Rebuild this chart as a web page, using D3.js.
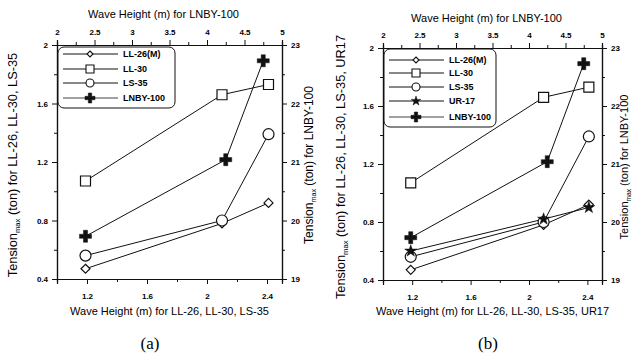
<!DOCTYPE html>
<html>
<head>
<meta charset="utf-8">
<script src="https://cdn.jsdelivr.net/npm/d3@7"></script>
<style>
  body { margin: 0; background: #fff; }
  svg { display: block; }
  text { font-family: Arial, "Liberation Sans", sans-serif; fill: #000; }
  .tick-label { font-size: 8px; font-weight: bold; }
  .title { font-size: 11px; }
  .legend text { font-size: 9px; font-weight: bold; }
  .caption { font-family: "Liberation Serif", "DejaVu Serif", serif; font-size: 17px; }
</style>
</head>
<body>
<svg id="chart" width="632" height="356"></svg>
<script>
// wave heights (m) for LL-26, LL-30, LS-35, UR17
const waveHeights = [1.19, 2.1, 2.41];
// wave heights (m) for LNBY-100
const lnbyWaveHeights = [2.38, 4.25, 4.75];

// max tension (ton)
const ll26 = [0.47, 0.78, 0.92];
const ll30 = [1.07, 1.66, 1.73];
const ls35 = [0.56, 0.80, 1.39];
const ur17 = [0.60, 0.82, 0.90];
const lnby100 = [19.73, 21.04, 22.73];

// tick labels
const bottomTicks = [1.2, 1.6, 2, 2.4];
const bottomMinor = [1.0, 1.4, 1.8, 2.2];
const topTicks = [2, 2.5, 3, 3.5, 4, 4.5, 5];
const topMinor = [2.25, 2.75, 3.25, 3.75, 4.25, 4.75];
const leftTicks = [0.4, 0.8, 1.2, 1.6, 2];
const leftMinor = [0.6, 1.0, 1.4, 1.8];
const rightTicks = [19, 20, 21, 22, 23];
const rightMinor = [19.5, 20.5, 21.5, 22.5];

const svg = d3.select('#chart');

function markerPath(type, s) {
  const h = s / 2;
  if (type === 'diamond') return `M0,${-h}L${h},0L0,${h}L${-h},0Z`;
  if (type === 'square') return `M${-h},${-h}H${h}V${h}H${-h}Z`;
  if (type === 'circle') return d3.symbol(d3.symbolCircle, Math.PI * h * h)();
  if (type === 'star') return d3.symbol(d3.symbolStar, s * s * 0.45)();
  if (type === 'plus') {
    const a = s * 0.17;
    return `M${-a},${-h}H${a}V${-a}H${h}V${a}H${a}V${h}H${-a}V${a}H${-h}V${-a}H${-a}Z`;
  }
}

function drawPanel(p) {
  const g = svg.append('g');
  const x = d3.scaleLinear().domain([1.0, 2.5]).range([p.x0, p.x1]);
  const xTop = d3.scaleLinear().domain([2, 5]).range([p.x0, p.x1]);
  const y = d3.scaleLinear().domain([0.4, 2]).range([p.y1, p.y0]);
  const yR = d3.scaleLinear().domain([19, 23]).range([p.y1, p.y0]);

  const axisStyle = sel => {
    sel.select('.domain').attr('stroke', '#111').attr('stroke-width', 1.2);
    sel.selectAll('.tick line').attr('stroke', '#111').attr('stroke-width', 1);
    sel.selectAll('.tick text').attr('class', 'tick-label').attr('fill', '#000');
  };
  const minor = (axis, vals) => axis.tickValues(vals).tickSize(3).tickFormat('');

  // minor ticks
  g.append('g').attr('transform', `translate(0,${p.y1})`).call(minor(d3.axisBottom(x), bottomMinor)).call(axisStyle);
  g.append('g').attr('transform', `translate(0,${p.y0})`).call(minor(d3.axisTop(xTop), topMinor)).call(axisStyle);
  g.append('g').attr('transform', `translate(${p.x0},0)`).call(minor(d3.axisLeft(y), leftMinor)).call(axisStyle);
  g.append('g').attr('transform', `translate(${p.x1},0)`).call(minor(d3.axisRight(yR), rightMinor)).call(axisStyle);

  // major ticks
  g.append('g').attr('transform', `translate(0,${p.y1})`)
    .call(d3.axisBottom(x).tickValues(bottomTicks).tickSize(5).tickPadding(9).tickFormat(d3.format('')))
    .call(axisStyle);
  g.append('g').attr('transform', `translate(0,${p.y0})`)
    .call(d3.axisTop(xTop).tickValues(topTicks).tickSize(5).tickPadding(p.topPad).tickFormat(d3.format('')))
    .call(axisStyle);
  g.append('g').attr('transform', `translate(${p.x0},0)`)
    .call(d3.axisLeft(y).tickValues(leftTicks).tickSize(5).tickPadding(4).tickFormat(d3.format('')))
    .call(axisStyle);
  g.append('g').attr('transform', `translate(${p.x1},0)`)
    .call(d3.axisRight(yR).tickValues(rightTicks).tickSize(5).tickPadding(4).tickFormat(d3.format('')))
    .call(axisStyle);

  // axis titles
  g.append('text').attr('class', 'title').attr('x', (p.x0 + p.x1) / 2 + p.topTitleDx).attr('y', p.topTitleY)
    .attr('text-anchor', 'middle').text('Wave Height (m) for LNBY-100');
  g.append('text').attr('class', 'title').attr('x', (p.x0 + p.x1) / 2).attr('y', 315)
    .attr('text-anchor', 'middle').text(p.bottomTitle);

  const vTitle = (cx, size, rest) => {
    const t = g.append('text').attr('text-anchor', 'middle').attr('font-size', size)
      .attr('transform', `translate(${cx},${(p.y0 + p.y1) / 2 + 3}) rotate(-90)`);
    t.append('tspan').text('Tension');
    t.append('tspan').attr('font-size', size * 0.6).attr('dy', 3).text('max');
    t.append('tspan').attr('dy', -3).text(rest);
  };
  vTitle(p.leftLabelX, 12.8, ' (ton) for ' + p.leftNames);
  vTitle(p.rightLabelX, p.rightLabelSize, ' (ton) for LNBY-100');

  g.append('text').attr('class', 'caption').attr('x', p.captionX).attr('y', 349)
    .attr('text-anchor', 'middle').text(p.caption);

  // series lines
  const line = (sx, sy) => d3.line().x(d => sx(d[0])).y(d => sy(d[1]));
  p.series.forEach(s => {
    const xs = s.right ? lnbyWaveHeights : waveHeights;
    const pts = xs.map((v, i) => [v, s.values[i]]);
    const sx = s.right ? xTop : x, sy = s.right ? yR : y;
    g.append('path').datum(pts).attr('d', line(sx, sy))
      .attr('fill', 'none').attr('stroke', '#111').attr('stroke-width', 1);
  });
  // markers
  p.series.forEach(s => {
    const xs = s.right ? lnbyWaveHeights : waveHeights;
    const sx = s.right ? xTop : x, sy = s.right ? yR : y;
    g.selectAll(null).data(xs.map((v, i) => [v, s.values[i]])).enter().append('path')
      .attr('transform', d => `translate(${sx(d[0])},${sy(d[1])})`)
      .attr('d', markerPath(s.marker, s.size))
      .attr('fill', s.filled ? '#111' : '#fff')
      .attr('stroke', '#111').attr('stroke-width', s.filled ? 0.5 : 1.2);
  });

  // legend
  const lg = g.append('g').attr('class', 'legend');
  lg.append('rect').attr('x', p.legend.x).attr('y', p.legend.y)
    .attr('width', p.legend.w).attr('height', p.legend.h).attr('rx', 6)
    .attr('fill', '#fff').attr('stroke', '#111').attr('stroke-width', 1);
  p.series.forEach((s, i) => {
    const ly = p.legend.rowY[i];
    lg.append('line').attr('x1', p.legend.x + 5).attr('x2', p.legend.x + 60)
      .attr('y1', ly).attr('y2', ly).attr('stroke', '#111').attr('stroke-width', s.right ? 0.8 : 1);
    lg.append('path').attr('transform', `translate(${p.legend.x + 32},${ly})`)
      .attr('d', markerPath(s.marker, s.legendSize))
      .attr('fill', s.filled ? '#111' : '#fff')
      .attr('stroke', '#111').attr('stroke-width', s.filled ? 0.5 : 1.1);
    lg.append('text').attr('x', p.legend.x + 65).attr('y', ly + 3).text(s.name);
  });
}

const sLL26 = { name: 'LL-26(M)', values: ll26, marker: 'diamond', size: 9, legendSize: 6 };
const sLL30 = { name: 'LL-30', values: ll30, marker: 'square', size: 10, legendSize: 8 };
const sLS35 = { name: 'LS-35', values: ls35, marker: 'circle', size: 11, legendSize: 8 };
const sUR17 = { name: 'UR-17', values: ur17, marker: 'star', size: 10, legendSize: 8, filled: true };
const sLNBY = { name: 'LNBY-100', values: lnby100, marker: 'plus', size: 12, legendSize: 10, filled: true, right: true };

drawPanel({
  x0: 57, x1: 282, y0: 45, y1: 279, topPad: 5, topTitleY: 18, topTitleDx: -6,
  leftLabelX: 17, rightLabelX: 313, rightLabelSize: 12, captionX: 150, caption: '(a)',
  leftNames: 'LL-26, LL-30, LS-35',
  bottomTitle: 'Wave Height (m) for LL-26, LL-30, LS-35',
  series: [sLL26, sLL30, sLS35, sLNBY],
  legend: { x: 58, y: 47, w: 117, h: 61, rowY: [54, 69, 83, 98] }
});

drawPanel({
  x0: 383, x1: 602, y0: 48, y1: 280, topPad: 5, topTitleY: 22, topTitleDx: -6,
  leftLabelX: 345, rightLabelX: 628, rightLabelSize: 11, captionX: 488, caption: '(b)',
  leftNames: 'LL-26, LL-30, LS-35, UR17',
  bottomTitle: 'Wave Height (m) for LL-26, LL-30, LS-35, UR17',
  series: [sLL26, sLL30, sLS35, sUR17, sLNBY],
  legend: { x: 384, y: 49, w: 112, h: 78, rowY: [60, 73, 87, 101, 117] }
});
</script>
</body>
</html>
